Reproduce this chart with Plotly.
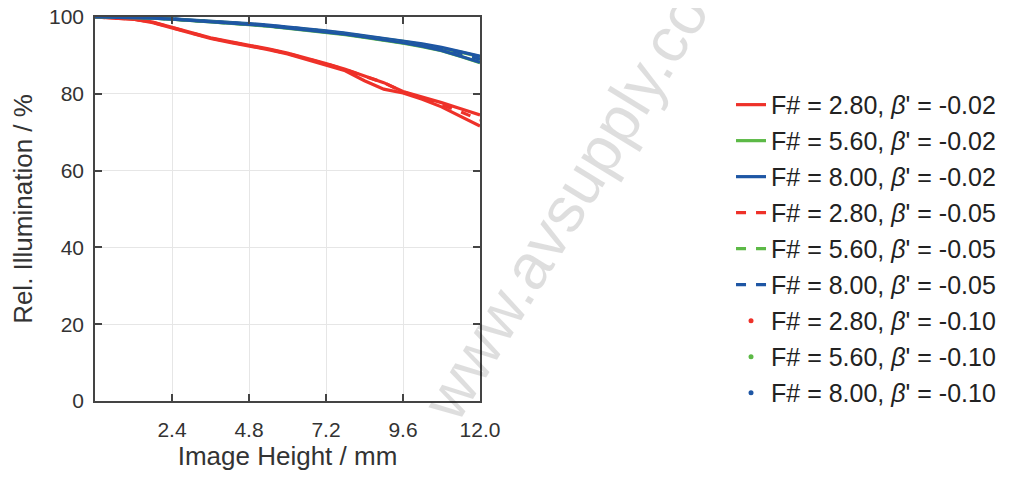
import plotly.graph_objects as go

# Image height (mm)
image_height = [0, 0.6, 1.2, 1.8, 2.4, 3.0, 3.6, 4.2, 4.8, 5.4, 6.0, 6.6, 7.2, 7.8, 8.4, 9.0, 9.6, 10.2, 10.8, 11.4, 12.0]

# Relative illumination (%), beta' = -0.02
f28_b002 = [100, 99.8, 99.5, 98.7, 97.4, 96.0, 94.6, 93.6, 92.7, 91.7, 90.6, 89.3, 87.9, 86.4, 84.6, 82.9, 80.6, 79.2, 77.7, 76.1, 74.5]
f56_b002 = [100, 99.96, 99.88, 99.72, 99.45, 99.18, 98.85, 98.52, 98.15, 97.75, 97.3, 96.8, 96.25, 95.65, 95.0, 94.35, 93.65, 92.85, 91.95, 90.85, 89.65]
f80_b002 = [100, 99.97, 99.9, 99.75, 99.5, 99.25, 98.95, 98.65, 98.3, 97.9, 97.45, 96.95, 96.4, 95.8, 95.15, 94.5, 93.8, 93.0, 92.1, 91.0, 89.8]

# beta' = -0.05
f28_b005 = [100, 99.8, 99.45, 98.6, 97.3, 95.9, 94.5, 93.5, 92.6, 91.6, 90.5, 89.2, 87.8, 86.3, 84.6, 82.9, 80.5, 78.9, 77.2, 75.3, 73.2]
f56_b005 = [100, 99.96, 99.88, 99.72, 99.45, 99.15, 98.8, 98.45, 98.05, 97.65, 97.2, 96.7, 96.15, 95.55, 94.85, 94.15, 93.45, 92.55, 91.55, 90.25, 88.85]
f80_b005 = [100, 99.97, 99.9, 99.75, 99.5, 99.2, 98.9, 98.6, 98.2, 97.8, 97.35, 96.85, 96.3, 95.7, 95.0, 94.3, 93.6, 92.7, 91.7, 90.4, 89.0]

# beta' = -0.10
f28_b010 = [100, 99.75, 99.4, 98.5, 97.2, 95.8, 94.4, 93.4, 92.5, 91.5, 90.4, 89.0, 87.6, 86.0, 83.4, 81.2, 80.2, 78.6, 76.6, 74.2, 71.6]
f56_b010 = [100, 99.95, 99.86, 99.68, 99.42, 99.1, 98.78, 98.42, 98.0, 97.6, 97.1, 96.6, 96.0, 95.4, 94.7, 94.0, 93.2, 92.3, 91.2, 89.7, 88.1]
f80_b010 = [100, 99.97, 99.88, 99.7, 99.45, 99.15, 98.85, 98.5, 98.1, 97.7, 97.2, 96.7, 96.1, 95.5, 94.8, 94.1, 93.3, 92.4, 91.3, 89.8, 88.2]

f_numbers = ["2.80", "5.60", "8.00"]
betas = ["-0.02", "-0.05", "-0.10"]
x_ticks = [2.4, 4.8, 7.2, 9.6, 12.0]
x_tick_labels = ["2.4", "4.8", "7.2", "9.6", "12.0"]
y_ticks = [0, 20, 40, 60, 80, 100]

series = {
    ("2.80", "-0.02"): f28_b002, ("5.60", "-0.02"): f56_b002, ("8.00", "-0.02"): f80_b002,
    ("2.80", "-0.05"): f28_b005, ("5.60", "-0.05"): f56_b005, ("8.00", "-0.05"): f80_b005,
    ("2.80", "-0.10"): f28_b010, ("5.60", "-0.10"): f56_b010, ("8.00", "-0.10"): f80_b010,
}

colors = {"2.80": "#EE3129", "5.60": "#5CB946", "8.00": "#1E56A4"}
FONT = "Liberation Sans, Arial, Helvetica, sans-serif"
TXT = "#333333"

fig = go.Figure()
gi = 0
for b in betas:
    for f in f_numbers:
        y = series[(f, b)]
        name = f"F# = {f}, <i>β</i>' = {b}"
        gi += 1
        grp = f"g{gi}"
        if b == "-0.10":
            # densely sampled point series: drawn as a continuous band, legend shows a dot
            fig.add_trace(go.Scatter(x=image_height, y=y, mode="lines",
                                     line=dict(color=colors[f], width=3.2),
                                     showlegend=False, legendgroup=grp, hoverinfo="skip"))
            fig.add_trace(go.Scatter(x=[None], y=[None], mode="markers", name=name,
                                     marker=dict(color=colors[f], size=5),
                                     legendgroup=grp))
        else:
            dash = "solid" if b == "-0.02" else "10px,10px"
            fig.add_trace(go.Scatter(x=image_height, y=y, mode="lines", name=name,
                                     line=dict(color=colors[f], width=3.2, dash=dash),
                                     legendgroup=grp))

axis_common = dict(
    showline=True, linecolor="#444444", linewidth=1.5, mirror="allticks",
    ticks="inside", ticklen=7, tickwidth=1.5, tickcolor="#444444",
    showgrid=True, gridcolor="#e6e6e6", gridwidth=1, zeroline=False,
    automargin=False, ticklabeloverflow="allow",
    tickfont=dict(family=FONT, size=21, color=TXT),
)

fig.update_xaxes(range=[0, 12], tickvals=x_ticks, ticktext=x_tick_labels,
                 title=dict(text="Image Height / mm", font=dict(family=FONT, size=26, color=TXT), standoff=6),
                 ticklabelstandoff=9, **axis_common)
fig.update_yaxes(range=[0, 100], tickvals=y_ticks,
                 title=dict(text="Rel. Illumination / %", font=dict(family=FONT, size=26, color=TXT), standoff=10),
                 ticklabelstandoff=5, **axis_common)

fig.add_annotation(text="www.avsupply.com", xref="paper", yref="paper", x=1.257, y=0.565,
                   xanchor="center", yanchor="middle", showarrow=False, textangle=-58.5,
                   font=dict(family=FONT, size=64, color="rgba(0,0,0,0.13)"))

fig.update_layout(
    width=1015, height=477,
    margin=dict(l=87, r=543, t=9, b=84),
    plot_bgcolor="white", paper_bgcolor="white",
    font=dict(family=FONT, color=TXT),
    legend=dict(x=1.652, xanchor="left", y=0.831, yanchor="top",
                font=dict(family=FONT, size=25, color="#222222"),
                tracegroupgap=0.5, bgcolor="rgba(0,0,0,0)"),
)

fig.write_html("out.html")
